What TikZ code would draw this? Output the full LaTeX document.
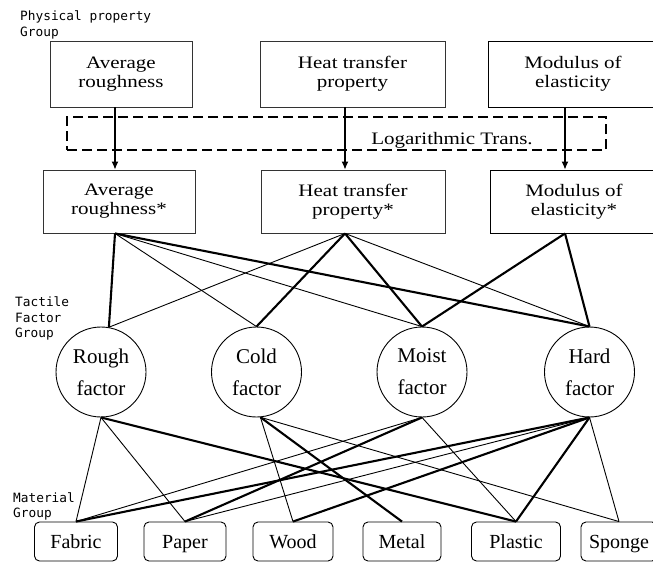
\documentclass[tikz,border=0pt]{standalone}
\usepackage{fontspec}
\setmainfont{Liberation Serif}
\newfontfamily\widefont[FakeStretch=1.2]{Liberation Serif}
\newfontfamily\tagfont{DejaVu Sans Mono}
\usetikzlibrary{arrows.meta,calc}

\begin{document}
\begin{tikzpicture}[x=1pt,y=-1pt,
  prop/.style={draw=black!80, line width=0.9pt, inner sep=0pt, align=center,
    font=\widefont\fontsize{17.5}{19}\selectfont},
  factor/.style={draw, circle, line width=0.9pt, minimum size=90pt, inner sep=0pt,
    align=center, font=\fontsize{21}{32}\selectfont},
  material/.style={draw, rounded corners=5pt, line width=0.9pt, minimum height=39pt,
    inner sep=0pt, font=\fontsize{20}{24}\selectfont, text height=14pt, text depth=0.5pt},
  tag/.style={anchor=north west, inner sep=0pt, align=left,
    font=\tagfont\fontsize{12.8}{15.5}\selectfont},
  thin link/.style={line width=0.9pt},
  thick link/.style={line width=2.1pt},
  trans/.style={line width=1.2pt, -{Latex[length=8pt,width=7pt]}},
  transbox/.style={draw, dashed, dash pattern=on 10pt off 5pt, line width=2.4pt,
    inner sep=0pt},
]
\useasboundingbox (0,0) rectangle (653,562);
\clip (0,0) rectangle (653,562);

% group captions
\node[tag] (capphys) at (20,11) {Physical property\\Group};
\node[tag] (captact) at (15,297) {Tactile\\Factor\\Group};
\node[tag] (capmat)  at (13,492) {Material\\Group};

% physical properties
\node[prop, minimum width=142pt, minimum height=66pt] (ar) at (121,74) {Average\\roughness};
\node[prop, minimum width=185pt, minimum height=66pt] (ht) at (352.5,74) {Heat transfer\\property};
\node[prop, draw=black, minimum width=170pt, minimum height=66pt] (mo) at (573,74) {Modulus of\\elasticity};

% logarithmic transformation
\node[transbox, minimum width=539pt, minimum height=33pt] (logbox) at (336.5,133.5) {};
\node[inner sep=0pt, font=\widefont\fontsize{17.5}{19}\selectfont] (logtxt) at (452,140.5) {Logarithmic Trans.};

% transformed properties
\node[prop, minimum width=152pt, minimum height=63pt] (ars) at (119,201.5) {Average\\roughness*};
\node[prop, minimum width=184pt, minimum height=63pt] (hts) at (353,201.5) {Heat transfer\\property*};
\node[prop, draw=black, minimum width=168pt, minimum height=63pt] (mos) at (574,201.5) {Modulus of\\elasticity*};

% tactile factors
\node[factor] (rough) at (101,372) {Rough\\factor};
\node[factor] (cold)  at (256.5,372) {Cold\\factor};
\node[factor] (moist) at (422,372) {Moist\\factor};
\node[factor] (hard)  at (589.5,372) {Hard\\factor};

% materials
\node[material, minimum width=83pt] (fabric)  at (76,541.5)  {Fabric};
\node[material, minimum width=82pt] (paper)   at (185,541.5) {Paper};
\node[material, minimum width=80pt] (wood)    at (293,541.5) {Wood};
\node[material, minimum width=78pt] (metal)   at (402,541.5) {Metal};
\node[material, minimum width=89pt] (plastic) at (516,541.5) {Plastic};
\node[material, minimum width=76pt] (sponge)  at (619,541.5) {Sponge};

% columns of the transformation arrows
\coordinate (ax) at (115,0);
\coordinate (bx) at (345,0);
\coordinate (cx) at (565,0);

\draw[trans] (ar.south -| ax) -- (ars.north -| ax);
\draw[trans] (ht.south -| bx) -- (hts.north -| bx);
\draw[trans] (mo.south -| cx) -- (mos.north -| cx);

% properties to tactile factors
\draw[thick link] (ars.south -| ax) -- (rough.80);
\draw[thin link]  (ars.south -| ax) -- (cold.north);
\draw[thin link]  (ars.south -| ax) -- (moist.north);
\draw[thick link] (ars.south -| ax) -- (hard.north);
\draw[thin link]  (hts.south -| bx) -- (rough.80);
\draw[thick link] (hts.south -| bx) -- (cold.north);
\draw[thick link] (hts.south -| bx) -- (moist.north);
\draw[thin link]  (hts.south -| bx) -- (hard.north);
\draw[thick link] (mos.south -| cx) -- (moist.north);
\draw[thick link] (mos.south -| cx) -- (hard.north);

% tactile factors to materials
\draw[thin link]  (rough.south) -- (fabric.north);
\draw[thin link]  (rough.south) -- (paper.north);
\draw[thick link] (rough.south) -- (plastic.north);
\draw[thin link]  (cold.-85) -- (wood.north);
\draw[thick link] (cold.-85) -- (metal.north);
\draw[thin link]  (cold.-85) -- (sponge.north);
\draw[thin link]  (moist.south) -- (fabric.north);
\draw[thick link] (moist.south) -- (paper.north);
\draw[thin link]  (moist.south) -- (plastic.north);
\draw[thick link] (hard.south) -- (fabric.north);
\draw[thin link]  (hard.south) -- (paper.north);
\draw[thick link] (hard.south) -- (wood.north);
\draw[thick link] (hard.south) -- (plastic.north);
\draw[thin link]  (hard.south) -- (sponge.north);
\end{tikzpicture}
\end{document}
